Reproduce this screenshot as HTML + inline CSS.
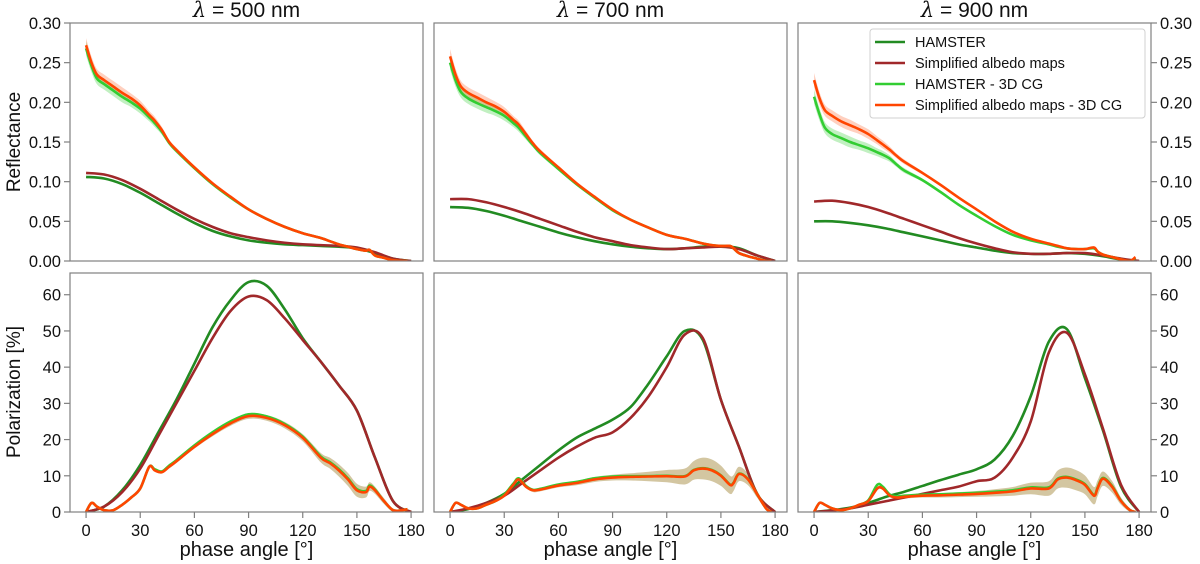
<!DOCTYPE html>
<html><head><meta charset="utf-8"><style>
html,body{margin:0;padding:0;background:#fff;}
svg{display:block;font-family:"Liberation Sans","DejaVu Sans",sans-serif;}
</style></head><body>
<svg id="chart" width="1200" height="564" viewBox="0 0 1200 564" xmlns="http://www.w3.org/2000/svg"></svg>
<script>
// ---------- data ----------
const smoothAngles = [0,10,20,30,40,50,60,70,80,90,100,110,120,130,140,150,160,170,180];
const cgAngles = [0,3,6,10,15,20,25,30,35,38,42,46,50,60,70,80,90,100,110,120,130,135,140,145,150,155,157,160,165,170,175,178];
const wavelengths = ["500","700","900"];
const xTicks = [0,30,60,90,120,150,180];
const reflTicks = [0,0.05,0.10,0.15,0.20,0.25,0.30];
const reflTickLabels = ["0.00","0.05","0.10","0.15","0.20","0.25","0.30"];
const polTicks = [0,10,20,30,40,50,60];
const legendLabels = ["HAMSTER","Simplified albedo maps","HAMSTER - 3D CG","Simplified albedo maps - 3D CG"];

// Reflectance
const reflHam500 = [0.106,0.104,0.097,0.086,0.073,0.060,0.048,0.038,0.031,0.026,0.023,0.021,0.020,0.019,0.018,0.016,0.010,0.003,0.0];
const reflSim500 = [0.111,0.109,0.102,0.091,0.078,0.065,0.053,0.043,0.035,0.030,0.026,0.023,0.021,0.020,0.019,0.017,0.011,0.003,0.0];
const reflCgO500 = [0.272,0.250,0.235,0.228,0.220,0.212,0.205,0.196,0.184,0.177,0.165,0.150,0.140,0.118,0.098,0.081,0.065,0.053,0.043,0.035,0.029,0.025,0.021,0.018,0.015,0.013,0.014,0.007,0.004,0.001,0.0,0.0];
const reflCgG500 = [0.268,0.246,0.230,0.223,0.215,0.207,0.200,0.192,0.181,0.174,0.163,0.149,0.139,0.117,0.097,0.080,0.065,0.053,0.043,0.035,0.029,0.025,0.021,0.018,0.015,0.013,0.014,0.007,0.004,0.001,0.0,0.0];
const reflHam700 = [0.068,0.067,0.063,0.057,0.050,0.043,0.036,0.030,0.025,0.021,0.018,0.016,0.015,0.016,0.018,0.019,0.016,0.007,0.0];
const reflSim700 = [0.078,0.078,0.074,0.068,0.061,0.053,0.045,0.037,0.030,0.025,0.020,0.017,0.015,0.016,0.017,0.018,0.015,0.007,0.0];
const reflCgO700 = [0.258,0.235,0.220,0.212,0.206,0.200,0.195,0.188,0.178,0.172,0.160,0.148,0.138,0.118,0.098,0.081,0.065,0.052,0.042,0.033,0.028,0.025,0.022,0.020,0.019,0.019,0.016,0.010,0.006,0.003,0.0,0.0];
const reflCgG700 = [0.250,0.228,0.213,0.205,0.199,0.194,0.189,0.183,0.174,0.168,0.157,0.146,0.136,0.116,0.097,0.080,0.064,0.052,0.042,0.033,0.028,0.025,0.022,0.020,0.019,0.019,0.016,0.010,0.006,0.003,0.0,0.0];
const reflHam900 = [0.050,0.050,0.048,0.045,0.041,0.036,0.031,0.026,0.021,0.017,0.013,0.010,0.009,0.009,0.010,0.009,0.006,0.002,0.0];
const reflSim900 = [0.075,0.076,0.073,0.068,0.061,0.053,0.045,0.037,0.029,0.022,0.016,0.011,0.009,0.009,0.010,0.010,0.007,0.003,0.0];
const reflCgO900 = [0.228,0.205,0.190,0.183,0.176,0.171,0.166,0.160,0.152,0.147,0.140,0.132,0.125,0.111,0.096,0.080,0.065,0.050,0.037,0.028,0.022,0.019,0.016,0.015,0.015,0.017,0.012,0.008,0.005,0.002,0.0,0.005];
const reflCgG900 = [0.207,0.185,0.168,0.160,0.155,0.150,0.146,0.142,0.137,0.134,0.129,0.121,0.114,0.102,0.087,0.071,0.057,0.044,0.033,0.026,0.021,0.018,0.016,0.015,0.015,0.016,0.012,0.008,0.005,0.002,0.0,0.004];
const reflBand = [0.009,0.008,0.007,0.007,0.007,0.007,0.006,0.006,0.005,0.005,0.004,0.003,0.003,0.002,0.002,0.001,0.001,0.001,0.001,0.001,0.001,0.001,0.001,0.001,0.001,0.001,0.001,0.001,0.001,0.001,0.001,0.001];

// Polarization
const polHam500 = [0,1.5,6,13,22,31,41,51,58.5,63.5,62.5,56,48,41.5,35,28,15,3,0];
const polSim500 = [0,1.5,5.5,12,21,30,39,48,55.5,59.5,58.5,53.5,47.5,41.5,35,28,15,3,0];
const polCgO500 = [0,2.5,1.5,0.5,0.5,2,4,6.5,12.5,11.5,11,12.5,14,18,21.5,24.5,26.5,26,24,20.5,15,13.5,11.5,9,6,5.5,7,6,3,0.5,0.5,0.8];
const polCgG500 = [0,2.5,1.5,0.5,0.5,2,4,6.5,12.5,11.8,11.2,12.8,14.3,18.4,22,25,27,26.4,24.3,20.8,15.3,13.8,11.8,9.3,6.3,5.8,7.3,6.2,3,0.5,0.5,0.8];
const polBand500 = [0.3,0.3,0.3,0.3,0.3,0.3,0.3,0.3,0.4,0.4,0.4,0.5,0.5,0.5,0.6,0.7,0.8,0.8,0.9,1.0,1.3,1.5,1.7,1.8,1.8,1.5,1.2,1.0,0.8,0.5,0.3,0.3];
const polHam700 = [0,0.8,2.5,5,9,13,17,20.5,23,25.5,29,35.5,43,50,47.5,31,18,5,0];
const polSim700 = [0,1,2.5,4.5,8,11.5,15,18,20.5,22,26,32,40,49,48,31,18,5,0];
const polCgO700 = [0,2.5,2,1,1,2,3,4.5,7.5,9,7,6,6.2,7.3,8,9,9.5,9.7,9.8,9.9,9.8,11.5,12,11.5,10,7.5,8,10.5,9,5,1,0];
const polCgG700 = [0,2.5,2,1,1,2,3,4.8,7.8,9.3,7.2,6.1,6.4,7.6,8.3,9.3,9.8,9.9,9.9,10,9.9,11.6,12.1,11.6,10.1,7.6,8.1,10.6,9.1,5,1,0];
const polBand700 = [0.3,0.3,0.3,0.3,0.3,0.3,0.3,0.3,0.4,0.4,0.4,0.5,0.5,0.5,0.6,0.7,0.8,1.0,1.3,1.7,2.2,2.6,3.0,3.0,2.8,2.5,2.2,2.0,1.6,1.0,0.5,0.3];
const polHam900 = [0,0.5,1.2,2.5,4.2,5.6,7.2,8.8,10.3,11.8,14.5,21,32,47,50.5,37,22.5,7,0];
const polSim900 = [0,0.4,1,2,3,4,5,6,7,8.5,9.5,15,25,44,49.5,38,23,7.5,0];
const polCgO900 = [0,2.5,2,1,0.5,1,2,3,6.5,6.5,4.5,4,4.2,4.5,4.6,4.8,5,5.3,5.7,6.5,6.5,9,9.5,8.8,7.5,4.5,6.5,9.2,7,3,0.5,0];
const polCgG900 = [0,2.5,2,1,0.5,1,2,3.2,7.5,7,4.8,4.3,4.5,4.8,4.9,5.1,5.3,5.6,6,6.8,6.8,9.2,9.7,9,7.7,4.7,6.7,9.4,7.2,3.1,0.5,0];
const polBand900 = [0.3,0.3,0.3,0.3,0.3,0.3,0.3,0.3,0.4,0.4,0.4,0.5,0.5,0.5,0.6,0.7,0.8,1.0,1.2,1.6,2.0,2.5,2.8,2.8,2.6,2.4,2.2,2.0,1.6,1.0,0.5,0.3];

const reflSeries = [
  [reflHam500,reflSim500,reflCgG500,reflCgO500],
  [reflHam700,reflSim700,reflCgG700,reflCgO700],
  [reflHam900,reflSim900,reflCgG900,reflCgO900]];
const polSeries = [
  [polHam500,polSim500,polCgG500,polCgO500,polBand500],
  [polHam700,polSim700,polCgG700,polCgO700,polBand700],
  [polHam900,polSim900,polCgG900,polCgO900,polBand900]];

// ---------- layout ----------
const NS = "http://www.w3.org/2000/svg";
const svg = document.getElementById("chart");
const colors = ["#228b22","#a0282a","#32cd32","#ff4500"];
const panelLeft = [70,434,798];
const panelW = 353;
const rowTop = [23,273];
const rowBot = [261,512];
const xMin = -8.9, xMax = 186.6;
function mk(tag, attrs, parent){
  const e = document.createElementNS(NS, tag);
  for (const k in attrs) e.setAttribute(k, attrs[k]);
  (parent||svg).appendChild(e);
  return e;
}
function xScale(p, a){ return panelLeft[p] + (a - xMin) / (xMax - xMin) * panelW; }
function yScale(r, v){ const lim = r===0 ? 0.30 : 66; return rowBot[r] - v/lim * (rowBot[r]-rowTop[r]); }
function smoothPath(pts){
  let d = "M" + pts[0][0].toFixed(2) + "," + pts[0][1].toFixed(2);
  for (let i=0;i<pts.length-1;i++){
    const p0 = pts[Math.max(0,i-1)], p1 = pts[i], p2 = pts[i+1], p3 = pts[Math.min(pts.length-1,i+2)];
    const c1x = p1[0]+(p2[0]-p0[0])/6, c1y = p1[1]+(p2[1]-p0[1])/6;
    const c2x = p2[0]-(p3[0]-p1[0])/6, c2y = p2[1]-(p3[1]-p1[1])/6;
    d += " C"+c1x.toFixed(2)+","+c1y.toFixed(2)+" "+c2x.toFixed(2)+","+c2y.toFixed(2)+" "+p2[0].toFixed(2)+","+p2[1].toFixed(2);
  }
  return d;
}
function linePts(p, r, angles, vals){ return angles.map((a,i)=>[xScale(p,a), yScale(r,vals[i])]); }
function bandPath(p, r, vals, band){
  const up = cgAngles.map((a,i)=>[xScale(p,a), yScale(r,vals[i]+band[i])]);
  const lo = cgAngles.map((a,i)=>[xScale(p,a), yScale(r,Math.max(0,vals[i]-band[i]))]).reverse();
  return smoothPath(up) + " L" + smoothPath(lo).slice(1) + " Z";
}

for (let p=0;p<3;p++){
  const g = mk("g",{});
  
  
  const clipId = "clip"+p;
  for (let r=0;r<2;r++){
    const cp = mk("clipPath",{id:clipId+"r"+r}, g);
    mk("rect",{x:panelLeft[p],y:rowTop[r],width:panelW,height:rowBot[r]-rowTop[r]}, cp);
    const plot = mk("g",{"clip-path":"url(#"+clipId+"r"+r+")"}, g);
    
    
    const series = r===0 ? reflSeries[p] : polSeries[p];
    if (r===0){
      const bg = mk("path",{d:bandPath(p,r,series[2],reflBand),fill:"#32cd32","fill-opacity":0.3,stroke:"none"}, plot);
      
      
      const bo = mk("path",{d:bandPath(p,r,series[3],reflBand),fill:"#ff4500","fill-opacity":0.25,stroke:"none"}, plot);
      
      
    } else {
      const bo = mk("path",{d:bandPath(p,r,series[3],series[4]),fill:"#b5a063","fill-opacity":0.6,stroke:"none"}, plot);
      
      
    }
    const names = ["line-hamster","line-simplified","line-hamster-3dcg","line-simplified-3dcg"];
    for (let s=0;s<4;s++){
      const ang = s<2 ? smoothAngles : cgAngles;
      const ln = mk("path",{d:smoothPath(linePts(p,r,ang,series[s])),fill:"none",stroke:colors[s],"stroke-width":2.6,"stroke-linejoin":"round"}, plot);
      
      
    }
    const frame = mk("rect",{x:panelLeft[p],y:rowTop[r],width:panelW,height:rowBot[r]-rowTop[r],fill:"none",stroke:"#808080","stroke-width":1.2}, g);
    
    
    if (p!==1){
      const ticks = r===0 ? reflTicks : polTicks;
      const side = p===0 ? -1 : 1;
      const xe = p===0 ? panelLeft[p] : panelLeft[p]+panelW;
      ticks.forEach((t,i)=>{
        const y = yScale(r,t);
        mk("line",{x1:xe,x2:xe+side*6,y1:y,y2:y,stroke:"#808080","stroke-width":1.2}, g);
        const tx = mk("text",{x:xe+side*9,y:y+6,"font-size":16.5,"text-anchor":p===0?"end":"start",fill:"#111"}, g);
        tx.textContent = r===0 ? reflTickLabels[i] : String(t);
        
        
      });
    }
    if (r===1){
      xTicks.forEach(t=>{
        const x = xScale(p,t);
        mk("line",{x1:x,x2:x,y1:rowBot[r],y2:rowBot[r]+6,stroke:"#808080","stroke-width":1.2}, g);
        const tx = mk("text",{x:x,y:rowBot[r]+24,"font-size":16.5,"text-anchor":"middle",fill:"#111"}, g);
        tx.textContent = String(t);
        
        
      });
      const xl = mk("text",{x:panelLeft[p]+panelW/2,y:556,"font-size":20,"text-anchor":"middle",fill:"#111"}, g);
      xl.textContent = "phase angle [°]";
      
      
    }
  }
  const tt = mk("text",{x:panelLeft[p]+panelW/2,y:17,"font-size":21,"text-anchor":"middle",fill:"#111"}, g);
  tt.innerHTML = '<tspan font-style="italic" font-family="DejaVu Serif, serif">λ</tspan> = '+wavelengths[p]+' nm';
  
  
}
const yl1 = mk("text",{x:0,y:0,"font-size":19,"text-anchor":"middle",fill:"#111",transform:"translate(20,142) rotate(-90)"});
yl1.textContent = "Reflectance";


const yl2 = mk("text",{x:0,y:0,"font-size":19,"text-anchor":"middle",fill:"#111",transform:"translate(20,392) rotate(-90)"});
yl2.textContent = "Polarization [%]";


const lg = mk("g",{});


mk("rect",{x:870,y:29,width:275,height:89,rx:3,fill:"#fff","fill-opacity":0.85,stroke:"#d0d0d0","stroke-width":1}, lg);
legendLabels.forEach((lab,i)=>{
  const y = 42 + i*21;
  const ent = mk("g",{}, lg);
  
  
  mk("line",{x1:875,x2:905,y1:y,y2:y,stroke:colors[i],"stroke-width":2.6}, ent);
  const t = mk("text",{x:915,y:y+5,"font-size":14.5,fill:"#111"}, ent);
  t.textContent = lab;
});
</script>
</body></html>
